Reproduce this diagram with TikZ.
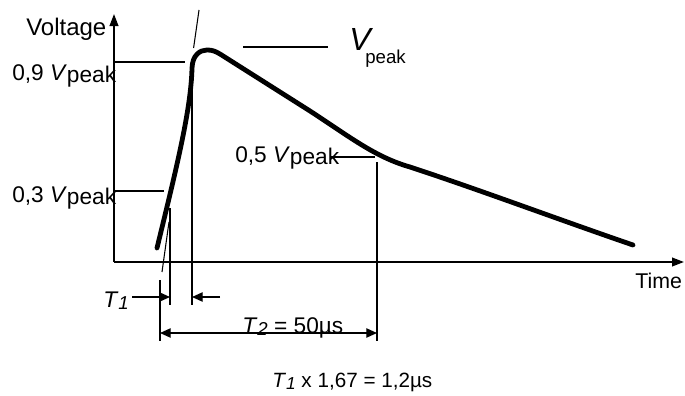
\documentclass[tikz,border=0pt]{standalone}
\usepackage{fontspec}
\setmainfont{Liberation Sans}
\usetikzlibrary{arrows.meta}
\begin{document}
\begin{tikzpicture}[x=0.75pt,y=-0.75pt,
  thinline/.style={line width=0.95pt},
  axisline/.style={line width=1.4pt,-{Triangle[length=9pt,width=6.5pt]}},
  wave/.style={line width=3.6pt,line join=round,line cap=round},
  dimarrow/.style={line width=0.95pt,-{Triangle[length=8pt,width=7pt]}},
  dimboth/.style={line width=0.95pt,{Triangle[length=8pt,width=7pt]}-{Triangle[length=8pt,width=7pt]}},
  lbl/.style={inner sep=0pt,anchor=base west,font=\fontsize{17}{20}\selectfont}]
\useasboundingbox (0,0) rectangle (685,396);
% axes
\coordinate (O) at (114,262);
\coordinate (Ytop) at (114,14);
\coordinate (Xend) at (684,262);
\draw[axisline] (O) -- (Ytop);
\draw[axisline] (O) -- (Xend);
% level lines
\coordinate (l9a) at (114,62);  \coordinate (l9b) at (185,62);
\coordinate (l3a) at (114,191); \coordinate (l3b) at (164,191);
\coordinate (l5a) at (330,157); \coordinate (l5b) at (375,157);
\coordinate (lpa) at (243,47);  \coordinate (lpb) at (328,47);
\draw[thinline] (l9a) -- (l9b);
\draw[thinline] (l3a) -- (l3b);
\draw[thinline] (l5a) -- (l5b);
\draw[thinline] (lpa) -- (lpb);
% tangent (virtual front line)
\coordinate (tg1) at (162,272); \coordinate (tg2) at (169,222);
\coordinate (tg3) at (193.6,48); \coordinate (tg4) at (199,10);
\draw[line width=0.8pt] (tg1) -- (tg2);
\draw[line width=0.8pt] (tg3) -- (tg4);
% vertical marker lines
\coordinate (v0a) at (160,280); \coordinate (v0b) at (160,341);
\coordinate (v1a) at (170,208); \coordinate (v1b) at (170,305);
\coordinate (v2a) at (192,66);  \coordinate (v2b) at (192,305);
\coordinate (v3a) at (377,162); \coordinate (v3b) at (377,341);
\draw[thinline] (v0a) -- (v0b);
\draw[thinline] (v1a) -- (v1b);
\draw[thinline] (v2a) -- (v2b);
\draw[thinline] (v3a) -- (v3b);
% waveform
\draw[wave] (157,248) .. controls (176,170) and (191,110) .. (192,68)
  .. controls (192.5,55) and (200,50) .. (207,50)
  .. controls (212,50) and (215,51) .. (220,54)
  -- (310,111) .. controls (350,137) and (375,157) .. (410,167)
  .. controls (480,190) and (560,220) .. (633,245);
% dimension arrows
\coordinate (a1s) at (132,297); \coordinate (a1e) at (170,297);
\coordinate (a2s) at (220,297); \coordinate (a2e) at (192,297);
\coordinate (a3s) at (160,333); \coordinate (a3e) at (377,333);
\draw[dimarrow] (a1s) -- (a1e);
\draw[dimarrow] (a2s) -- (a2e);
\draw[dimboth] (a3s) -- (a3e);
% labels
\node[lbl,font=\fontsize{18}{21}\selectfont] (voltage) at (26,35) {Voltage};
\node[lbl] (p9) at (12,80) {0,9 \textit{V}\raisebox{-2pt}{peak}};
\node[lbl] (p3) at (12,202) {0,3 \textit{V}\raisebox{-2pt}{peak}};
\node[lbl] (p5) at (235,162) {0,5 \textit{V}\raisebox{-2pt}{peak}};
\node[lbl,font=\fontsize{24}{28}\selectfont] (vbig) at (349,50) {\textit{V}};
\node[lbl,font=\fontsize{14}{16}\selectfont] (vsub) at (365,63) {peak};
\node[lbl,font=\fontsize{16}{19}\selectfont] (time) at (635,288) {Time};
\node[lbl] (t1) at (103,307) {\textit{T}\raisebox{-2pt}{\fontsize{14}{16}\selectfont\textit{1}}};
\node[lbl] (t2) at (242,333) {\textit{T}\raisebox{-2pt}{\fontsize{14}{16}\selectfont\textit{2}} = 50µs};
\node[lbl,font=\fontsize{15.5}{18}\selectfont] (form) at (272,387) {\textit{T}\raisebox{-1.5pt}{\fontsize{13}{15}\selectfont\textit{1}} x 1,67 = 1,2µs};
\end{tikzpicture}
\end{document}
